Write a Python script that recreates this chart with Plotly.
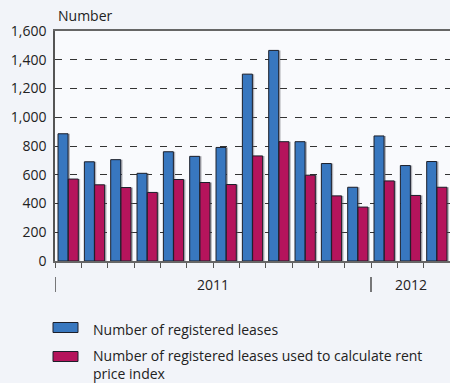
import plotly.graph_objects as go

# Monthly lease registrations, January 2011 - March 2012
months = ["Jan", "Feb", "Mar", "Apr", "May", "Jun", "Jul", "Aug", "Sep",
          "Oct", "Nov", "Dec", "Jan", "Feb", "Mar"]
registered = [885, 690, 705, 610, 760, 728, 790, 1300, 1465, 830, 678, 513, 870, 664, 692]
used_in_index = [570, 530, 511, 477, 567, 546, 532, 731, 830, 597, 453, 375, 557, 456, 513]
year_labels = ["2011", "2012"]
y_ticks = [0, 200, 400, 600, 800, 1000, 1200, 1400, 1600]

W, H = 450, 383
L, R, T, B = 55, 450, 31, 261  # plot area in pixels

BLUE = "#3877bf"
MAGENTA = "#b5145c"
OUTLINE = "#1c1f2a"
FONT = "Open Sans"

x = list(range(len(months)))
bw = 0.38

fig = go.Figure()

# soft drop shadows behind the bars
for vals, off in ((registered, -0.385), (used_in_index, 0.005)):
    fig.add_trace(go.Bar(
        x=x, y=vals, width=bw, offset=off + 0.07,
        marker=dict(color="rgba(90,90,100,0.45)", line=dict(width=0)),
        hoverinfo="skip", showlegend=False,
    ))

fig.add_trace(go.Bar(
    x=x, y=registered, width=bw, offset=-0.385, name="Number of registered leases",
    marker=dict(color=BLUE, line=dict(color=OUTLINE, width=1)), showlegend=False,
))
fig.add_trace(go.Bar(
    x=x, y=used_in_index, width=bw, offset=0.005,
    name="Number of registered leases used to calculate rent price index",
    marker=dict(color=MAGENTA, line=dict(color=OUTLINE, width=1)), showlegend=False,
))


def px_x(p):
    return (p - L) / (R - L)


def px_y(p):
    return (B - p) / (B - T)


annotations = [
    dict(text="Number", x=px_x(56), y=px_y(16), xref="paper", yref="paper",
         xanchor="left", yanchor="middle", showarrow=False,
         font=dict(family=FONT, size=14, color="#222")),
]
shapes = []
# year separators and labels under the month ticks
for sep in (-0.5, 11.5):
    shapes.append(dict(type="line", xref="x", yref="paper", x0=sep, x1=sep,
                       y0=px_y(292), y1=px_y(277), line=dict(color="#333", width=1.3)))
for lbl, pos in zip(year_labels, (5.5, 13.0)):
    annotations.append(dict(text=lbl, x=pos, y=px_y(284), xref="x", yref="paper",
                            xanchor="center", yanchor="middle", showarrow=False,
                            font=dict(family=FONT, size=14, color="#222")))

# legend drawn as swatches with text
legend_rows = [
    (BLUE, 322.5, "Number of registered leases", 328),
    (MAGENTA, 351.5, "Number of registered leases used to calculate rent<br>price index", 354),
]
for color, top, text, ty in legend_rows:
    shapes.append(dict(type="rect", xref="paper", yref="paper",
                       x0=px_x(53), x1=px_x(78), y0=px_y(top + 10), y1=px_y(top),
                       fillcolor=color, line=dict(color=OUTLINE, width=1)))
    annotations.append(dict(text=text, x=px_x(91), y=px_y(ty - 10), xref="paper", yref="paper",
                            xanchor="left", yanchor="top", align="left", showarrow=False,
                            font=dict(family=FONT, size=14, color="#222")))

fig.update_layout(
    width=W, height=H,
    margin=dict(l=L, r=W - R, t=T, b=H - B, pad=0),
    paper_bgcolor="#f2f4f9",
    plot_bgcolor="#f9fafd",
    barmode="overlay",
    showlegend=False,
    annotations=annotations,
    shapes=shapes,
    xaxis=dict(
        range=[-0.5, len(months) - 0.5],
        tickmode="array", tickvals=[i - 0.5 for i in range(len(months))],
        ticktext=["" for _ in months],
        ticks="outside", ticklen=5, tickcolor="#555", tickwidth=1,
        showgrid=False, zeroline=False,
        showline=True, linecolor="#666", linewidth=1.5, mirror=True,
    ),
    yaxis=dict(
        range=[0, 1600], tickmode="array", tickvals=y_ticks,
        tickformat=",", ticks="", ticklabelstandoff=4,
        tickfont=dict(family=FONT, size=14, color="#222"),
        showgrid=True, gridcolor="#333", gridwidth=1.2, griddash="7px,8px",
        zeroline=False, showline=True, linecolor="#555", linewidth=1.5,
    ),
)

fig.write_html("out.html")
